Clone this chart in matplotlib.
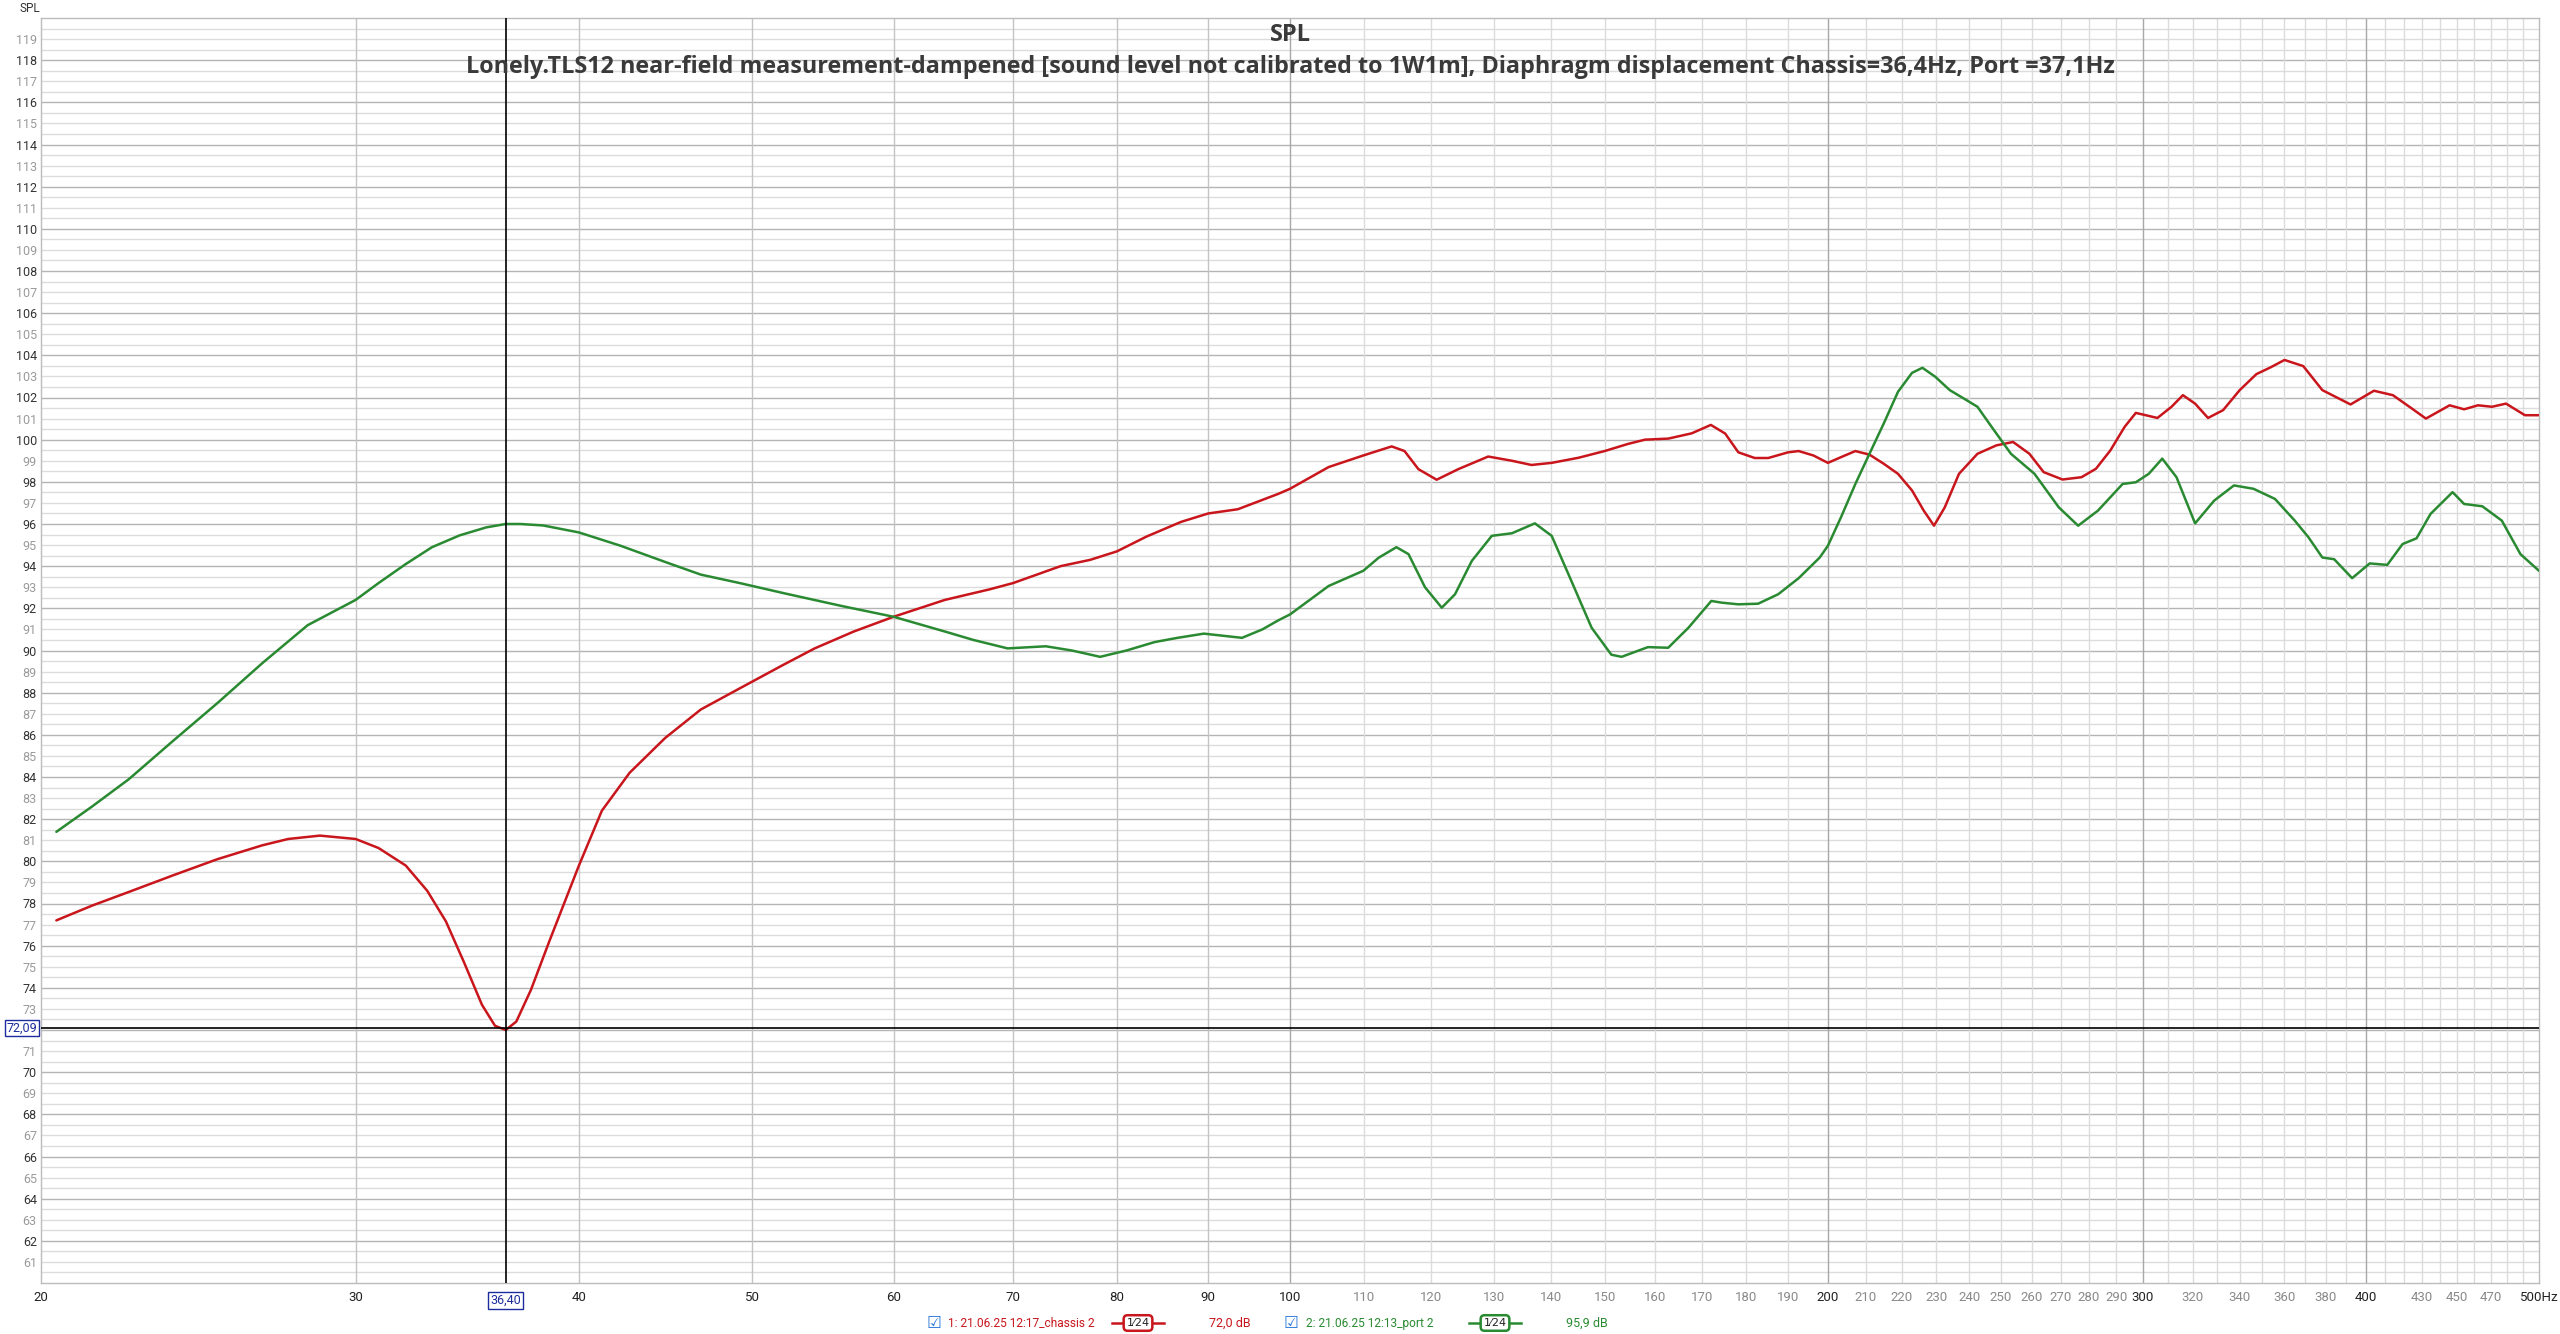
import matplotlib
matplotlib.use("Agg")
from matplotlib import pyplot as plt
from matplotlib import font_manager
from matplotlib.lines import Line2D
import numpy as np

freq_chassis = [20.4, 21.36, 22.4, 23.7, 25.1, 26.6, 27.5, 28.65, 30.0, 30.9, 32.0, 32.9,
                33.7, 34.5, 35.3, 35.9, 36.4, 36.9, 37.6, 38.5, 40.0, 41.2, 42.7, 44.7,
                46.8, 49.2, 52.0, 54.2, 57.0, 60.0, 64.1, 67.9, 70.0, 74.4, 77.3, 80.0,
                83.1, 86.9, 90.0, 93.5, 98.5, 100, 105.1, 109.9, 114.0, 115.9, 118.0, 120.8,
                124.2, 129.1, 133.1, 136.5, 140.1, 145.0, 150, 154.6, 158.0, 162.8, 167.8,
                172.0, 175.2, 178.2, 182.0, 185.2, 190, 192.6, 196.3, 200, 203.4, 207.2,
                211.0, 214.9, 218.9, 222.9, 226.3, 229.3, 232.5, 236.8, 242.5, 248.5, 253.9,
                259.3, 264.1, 270.6, 277.3, 282.5, 287.8, 293.1, 297.4, 305.8, 311.4, 316.0,
                321.0, 326.4, 332.8, 340.0, 347.4, 353.8, 360.2, 369.0, 378.2, 392.2, 404.2,
                414.2, 424.4, 432.2, 445.6, 454.0, 462.2, 470.6, 479.2, 491, 500]
spl_chassis = [77.2, 77.9, 78.55, 79.33, 80.1, 80.76, 81.06, 81.22, 81.06, 80.63, 79.8, 78.6,
               77.15, 75.2, 73.2, 72.2, 72.0, 72.4, 73.9, 76.2, 79.8, 82.4, 84.2, 85.85,
               87.2, 88.2, 89.3, 90.1, 90.9, 91.6, 92.4, 92.9, 93.2, 94.0, 94.3, 94.7,
               95.4, 96.1, 96.5, 96.7, 97.43, 97.67, 98.7, 99.25, 99.68, 99.46, 98.6, 98.1,
               98.6, 99.2, 99.0, 98.8, 98.9, 99.14, 99.46, 99.8, 100.0, 100.05, 100.3,
               100.7, 100.29, 99.4, 99.13, 99.13, 99.4, 99.46, 99.25, 98.9, 99.17, 99.46,
               99.29, 98.86, 98.38, 97.59, 96.63, 95.92, 96.79, 98.38, 99.33, 99.73, 99.89,
               99.33, 98.46, 98.11, 98.22, 98.62, 99.49, 100.6, 101.27, 101.03, 101.56, 102.11,
               101.71, 101.03, 101.4, 102.35, 103.11, 103.43, 103.78, 103.49, 102.35, 101.67, 102.32,
               102.11, 101.48, 101.0, 101.63, 101.44, 101.63, 101.56, 101.71, 101.16, 101.16]

freq_port = [20.4, 21.36, 22.4, 23.7, 25.1, 26.6, 28.2, 30.0, 30.9, 32.0, 33.1, 34.3,
             35.5, 36.4, 37.1, 38.2, 40.0, 42.2, 44.7, 46.8, 49.2, 52.2, 56.2, 60.0,
             64.1, 66.5, 69.5, 73.0, 75.5, 78.3, 81.0, 84.0, 86.5, 89.5, 94.0, 96.5,
             98.5, 100, 105.1, 109.9, 112.1, 114.7, 116.5, 119.0, 121.6, 123.7, 126.4, 129.7,
             133.1, 137.1, 140.1, 143.7, 147.5, 151.3, 153.3, 158.6, 162.8, 167.1, 172.1,
             174.4, 178.2, 182.8, 187.6, 192.6, 197.9, 200, 203.4, 207.2, 211.0, 214.9,
             218.9, 222.9, 225.9, 229.7, 234.0, 238.3, 242.5, 247.0, 253.2, 261.0, 269.3,
             276.1, 283.2, 292.4, 297.4, 302.4, 307.7, 313.4, 321.0, 329.0, 337.5, 346.1,
             355.8, 365, 371.5, 378.2, 384.0, 393.0, 402.0, 411.2, 419.4, 427, 434.8,
             447.3, 454.0, 464.8, 476.6, 488.2, 500]
spl_port = [81.4, 82.6, 83.9, 85.7, 87.5, 89.4, 91.2, 92.4, 93.2, 94.1, 94.9, 95.46,
            95.84, 96.0, 96.0, 95.93, 95.6, 94.97, 94.2, 93.6, 93.2, 92.7, 92.1, 91.6,
            90.9, 90.5, 90.1, 90.2, 90.0, 89.7, 90.0, 90.4, 90.6, 90.8, 90.6, 91.0,
            91.43, 91.71, 93.06, 93.78, 94.4, 94.9, 94.57, 93.0, 92.03, 92.67, 94.25, 95.44,
            95.56, 96.03, 95.44, 93.3, 91.08, 89.8, 89.7, 90.16, 90.13, 91.08, 92.35,
            92.27, 92.19, 92.22, 92.67, 93.43, 94.41, 94.97, 96.32, 97.9, 99.33, 100.76,
            102.27, 103.17, 103.41, 102.98, 102.35, 101.95, 101.56, 100.6, 99.33, 98.38, 96.79,
            95.92, 96.63, 97.9, 97.98, 98.38, 99.1, 98.22, 96.03, 97.11, 97.83, 97.67,
            97.19, 96.16, 95.37, 94.41, 94.33, 93.43, 94.13, 94.06, 95.05, 95.32, 96.48,
            97.51, 96.95, 96.84, 96.16, 94.57, 93.78]

x_labels = [20, 30, 40, 50, 60, 70, 80, 90, 100, 110, 120, 130, 140, 150, 160, 170, 180, 190,
            200, 210, 220, 230, 240, 250, 260, 270, 280, 290, 300, 320, 340, 360, 380,
            400, 430, 450, 470, 500]
x_strong = [20, 30, 40, 50, 60, 70, 80, 90, 100, 200, 300, 400, 500]

cursor_f = 36.4
cursor_db = 72.09

title = "SPL"
subtitle = ("Lonely.TLS12 near-field measurement-dampened [sound level not calibrated to 1W1m], "
            "Diaphragm displacement Chassis=36,4Hz, Port =37,1Hz")
legend_names = ["1: 21.06.25 12:17_chassis 2", "2: 21.06.25 12:13_port 2"]
legend_values = ["72,0 dB", "95,9 dB"]

RED = "#c8161c"
GREEN = "#2a8a32"
BLUE = "#1c2c9c"


def pick_font(names):
    for n in names:
        try:
            font_manager.findfont(n, fallback_to_default=False)
            return n
        except Exception:
            pass
    return "DejaVu Sans"


tick_font = pick_font(["Liberation Sans Narrow", "Roboto", "DejaVu Sans"])
title_font = pick_font(["Open Sans", "Noto Sans", "DejaVu Sans"])

W, H = 2560, 1334
fig = plt.figure(figsize=(W / 100, H / 100), dpi=100)
ax = fig.add_axes([41 / W, 1 - 1283 / H, (2539 - 41) / W, (1283 - 18) / H])

ax.set_xscale("log")
ax.set_xlim(20, 500)
ax.set_ylim(60, 120)

# grid
for v in np.arange(60.5, 120, 0.5):
    if v % 2 == 0:
        ax.axhline(v, color="#b4b4b4", lw=1.0, zorder=1)
    else:
        ax.axhline(v, color="#dcdcdc", lw=1.0, zorder=0.9)
grid_f = list(range(30, 100, 10)) + list(range(100, 500, 10))
for f in grid_f:
    if f in (100, 200, 300, 400):
        c = "#a8a8a8"
    elif f < 100:
        c = "#c4c4c4"
    else:
        c = "#dcdcdc"
    ax.axvline(f, color=c, lw=1.0, zorder=1)

for s in ax.spines.values():
    s.set_color("#bcbcbc")
    s.set_linewidth(1.0)

# curves
ax.plot(freq_chassis, spl_chassis, color=RED, lw=1.8, zorder=3,
        solid_joinstyle="round", solid_capstyle="round")
ax.plot(freq_port, spl_port, color=GREEN, lw=1.8, zorder=3,
        solid_joinstyle="round", solid_capstyle="round")

# cursor
ax.axvline(cursor_f, color="black", lw=1.2, zorder=4)
ax.axhline(cursor_db, color="black", lw=1.2, zorder=4)

# ticks (the 72 label sits under the cursor readout)
y_vals = [v for v in range(61, 120) if v != 72]
ax.set_yticks(y_vals)
ax.set_yticklabels([str(v) for v in y_vals])
for lab, v in zip(ax.get_yticklabels(), y_vals):
    lab.set_color("#333333" if v % 2 == 0 else "#9a9a9a")
    lab.set_fontfamily(tick_font)
    lab.set_fontsize(9)
ax.tick_params(axis="y", length=0, pad=3)

ax.set_xticks(x_labels)
ax.set_xticks([], minor=True)
ax.set_xticklabels([str(v) if v != 500 else "500Hz" for v in x_labels])
for lab, v in zip(ax.get_xticklabels(), x_labels):
    lab.set_color("#222222" if v in x_strong else "#8a8a8a")
    lab.set_fontfamily(tick_font)
    lab.set_fontsize(9.5)
ax.tick_params(axis="x", which="both", length=0, pad=6)

# cursor readouts
ax.text(cursor_f, -0.0085, "36,40", transform=ax.get_xaxis_transform(), ha="center", va="top",
        color=BLUE, fontsize=9, family=tick_font, zorder=6,
        bbox=dict(boxstyle="square,pad=0.15", fc="white", ec=BLUE, lw=1.0))
ax.text(-0.0015, cursor_db, "72,09", transform=ax.get_yaxis_transform(), ha="right", va="center",
        color=BLUE, fontsize=9, family=tick_font, zorder=6,
        bbox=dict(boxstyle="square,pad=0.15", fc="white", ec=BLUE, lw=1.0))

# titles
fig.text(20 / W, 1 - 8 / H, "SPL", ha="left", va="center", fontsize=8.5, color="#333333",
         family=tick_font)
fig.text(1290 / W, 1 - 35 / H, title, ha="center", va="center", fontsize=17, fontweight="bold",
         color="#3a3a3a", family=title_font)
fig.text(1290 / W, 1 - 67 / H, subtitle, ha="center", va="center", fontsize=16.8, fontweight="bold",
         color="#3a3a3a", family=title_font)

# legend row
ly = 1 - 1323 / H
items = [(934, 948, 1112, 1164, 1209, legend_names[0], legend_values[0], RED),
         (1291, 1306, 1469, 1521, 1566, legend_names[1], legend_values[1], GREEN)]
for cbx, tx, s0, s1, vx, name, val, col in items:
    fig.text(cbx / W, ly, "\u2611", ha="center", va="center", fontsize=12, color="#2a78d8",
             family="DejaVu Sans")
    fig.text(tx / W, ly, name, ha="left", va="center", fontsize=8.6, color=col, family=tick_font)
    fig.add_artist(Line2D([s0 / W, s1 / W], [ly, ly], color=col, lw=1.8, transform=fig.transFigure))
    fig.text((s0 + s1) / 2 / W, ly, "1\u204424", ha="center", va="center", fontsize=8,
             color="#222222", family="DejaVu Sans",
             bbox=dict(boxstyle="round,pad=0.25,rounding_size=0.35", fc="white", ec=col, lw=1.8))
    fig.text(vx / W, ly, val, ha="left", va="center", fontsize=9, color=col, family=tick_font)

fig.savefig("out.png", dpi=100, facecolor="white")
